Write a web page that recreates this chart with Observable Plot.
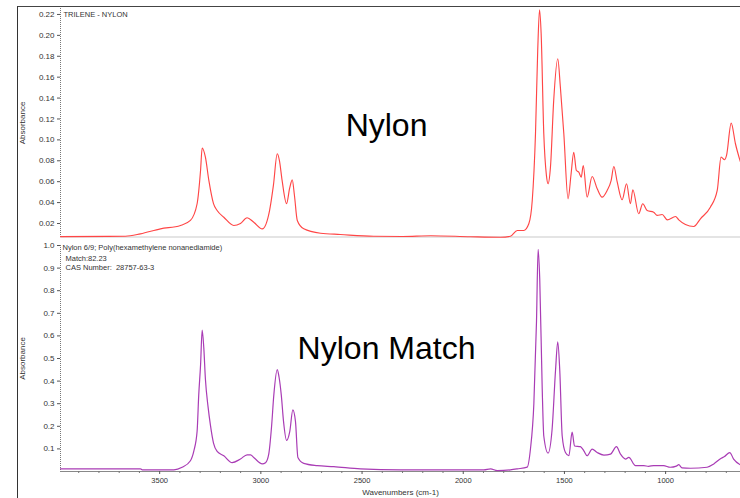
<!DOCTYPE html>
<html>
<head>
<meta charset="utf-8">
<script src="https://cdn.jsdelivr.net/npm/d3@7"></script>
<script src="https://cdn.jsdelivr.net/npm/@observablehq/plot@0.6"></script>
<style>
  html, body { margin: 0; padding: 0; background: #fff; }
  #wrap { position: relative; width: 740px; height: 498px; overflow: hidden; font-family: "Liberation Sans", Arial, sans-serif; }
  #wrap svg { display: block; }
  #frameline { position: absolute; left: 17px; top: 6px; width: 740px; height: 500px; border-left: 1.5px solid #333; border-top: 1.5px solid #444; pointer-events: none; }
</style>
</head>
<body>
<div id="wrap"><div id="charts"></div><div id="frameline"></div></div>
<script>
// ---- Data ----
const topWavenumber = [3990,3669,3595,3496,3397,3348,3315,3298,3290,3274,3257,3234,3216,3183,3134,3101,3068,3035,2993,2957,2938,2919,2908,2895,2873,2858,2845,2834,2820,2788,2705,2607,2443,2300,2160,1964,1816,1767,1733,1701,1676,1659,1643,1632,1623,1615,1602,1589,1581,1569,1553,1533,1520,1503,1482,1467,1454,1441,1429,1417,1407,1388,1363,1338,1314,1289,1269,1256,1239,1215,1193,1174,1162,1133,1113,1091,1059,1042,1017,992,951,935,902,861,828,779,745,726,709,699,676,655,630];
const topAbsorbance = [0.0075,0.0078,0.0101,0.0149,0.0181,0.0229,0.0389,0.0707,0.0922,0.0834,0.0612,0.039,0.0324,0.026,0.0181,0.020,0.0255,0.0212,0.0149,0.0324,0.0564,0.0867,0.080,0.0612,0.039,0.0535,0.0618,0.0468,0.0229,0.0149,0.0107,0.0095,0.0078,0.0076,0.0083,0.0073,0.0068,0.0078,0.0133,0.0133,0.0197,0.042,0.1058,0.1856,0.2245,0.2015,0.1058,0.066,0.058,0.0739,0.1377,0.1776,0.1504,0.1058,0.0436,0.0676,0.0882,0.0707,0.0691,0.0643,0.0755,0.0452,0.065,0.0532,0.0452,0.0516,0.0612,0.0745,0.0595,0.0427,0.058,0.0389,0.0523,0.0293,0.0389,0.0324,0.0308,0.0277,0.0286,0.0235,0.0267,0.0235,0.019,0.0171,0.0245,0.0356,0.0516,0.0835,0.081,0.0851,0.116,0.0963,0.0787];

const bottomWavenumber = [3990,3595,3586,3430,3389,3348,3331,3315,3307,3298,3290,3282,3274,3261,3249,3234,3216,3183,3142,3101,3068,3051,3035,2993,2977,2961,2947,2936,2919,2910,2899,2888,2873,2857,2842,2829,2817,2788,2722,2640,2508,2310,1898,1865,1832,1767,1733,1684,1668,1651,1638,1630,1622,1610,1602,1581,1561,1544,1533,1523,1511,1495,1478,1462,1450,1421,1404,1388,1363,1338,1305,1272,1243,1223,1198,1182,1149,1108,1084,1059,1010,977,947,935,919,877,795,762,729,709,683,664,630];
const bottomAbsorbance = [0.0117,0.0117,0.0074,0.0074,0.0187,0.0478,0.0913,0.178,0.338,0.47,0.626,0.548,0.409,0.287,0.204,0.126,0.089,0.0696,0.039,0.0552,0.0739,0.0739,0.0622,0.0335,0.039,0.077,0.2,0.338,0.451,0.417,0.338,0.222,0.138,0.178,0.273,0.222,0.0622,0.0361,0.026,0.0217,0.0117,0.0074,0.0074,0.0117,0.0043,0.0074,0.0117,0.0196,0.0987,0.301,0.664,0.983,0.852,0.374,0.157,0.0813,0.186,0.447,0.574,0.447,0.157,0.0839,0.0696,0.174,0.113,0.11,0.0913,0.0696,0.0987,0.0839,0.0726,0.077,0.11,0.077,0.0552,0.0622,0.026,0.026,0.023,0.026,0.026,0.0187,0.024,0.030,0.0161,0.0143,0.0187,0.0335,0.0565,0.0665,0.0839,0.0552,0.0291];

const topYTicks = [0.02,0.04,0.06,0.08,0.10,0.12,0.14,0.16,0.18,0.20,0.22];
const bottomYTicks = [0.1,0.2,0.3,0.4,0.5,0.6,0.7,0.8,0.9,1.0];
const xTicks = [3500,3000,2500,2000,1500,1000];
const xMinorTicks = [3900,3800,3700,3600,3400,3300,3200,3100,2900,2800,2700,2600,2400,2300,2200,2100,1900,1800,1700,1600,1400,1300,1200,1100,900,800,700];

const topTitle = "TRILENE - NYLON";
const bottomTitle = "Nylon 6/9; Poly(hexamethylene nonanediamide)";
const bottomMatch = "Match:82.23";
const bottomCas = "CAS Number:  28757-63-3";
const topLabel = "Nylon";
const bottomLabel = "Nylon Match";
const yLabel = "Absorbance";
const xLabel = "Wavenumbers (cm-1)";

const topData = topWavenumber.map((w, i) => ({w, a: topAbsorbance[i]}));
const bottomData = bottomWavenumber.map((w, i) => ({w, a: bottomAbsorbance[i]}));

const xDomain = [3990, 630];
const font = "Liberation Sans, Arial, sans-serif";
const tickColor = "#333";

const topChart = Plot.plot({
  width: 740, height: 238,
  marginLeft: 60, marginRight: 0, marginTop: 8, marginBottom: 1,
  style: {fontFamily: font, background: "#fff"},
  x: {domain: xDomain, axis: null},
  y: {domain: [0.0066, 0.2257], axis: null},
  marks: [
    Plot.ruleY([0.0066], {stroke: "#e4e4e4", strokeWidth: 3}),
    Plot.ruleX([xDomain[0]], {stroke: "#777", strokeDasharray: "1,1"}),
    Plot.axisY(topYTicks, {tickSize: 3, tickPadding: 3, fontSize: 8, fill: tickColor, stroke: "#555", tickFormat: d3.format(".2f"), label: null}),
    Plot.line(topData, {x: "w", y: "a", stroke: "#ff4646", strokeWidth: 1.15, curve: "monotone-x"}),
    Plot.text([topTitle], {frameAnchor: "top-left", dx: 3, dy: 6, text: d => d, fontSize: 7.5, fill: "#333", textAnchor: "start", lineAnchor: "middle"}),
    Plot.text([topLabel], {x: 2379, y: 0.1138, text: d => d, fontSize: 32, fill: "#000", textAnchor: "middle", lineAnchor: "middle"}),
    Plot.text([yLabel], {frameAnchor: "left", dx: -38, rotate: -90, text: d => d, fontSize: 8, fill: "#333", textAnchor: "middle", lineAnchor: "middle"})
  ]
});

const bottomChart = Plot.plot({
  width: 740, height: 260,
  marginLeft: 60, marginRight: 0, marginTop: 7, marginBottom: 27,
  style: {fontFamily: font, background: "#fff"},
  x: {domain: xDomain, axis: null},
  y: {domain: [0, 1.0], axis: null},
  marks: [
    Plot.ruleX([xDomain[0]], {stroke: "#777", strokeDasharray: "1,1"}),
    Plot.ruleY([0], {stroke: "#888"}),
    Plot.axisY(bottomYTicks, {tickSize: 3, tickPadding: 3, fontSize: 8, fill: tickColor, stroke: "#555", tickFormat: d3.format(".1f"), label: null}),
    Plot.axisX(xTicks, {tickSize: 3, tickPadding: 3, fontSize: 7.5, fill: tickColor, stroke: "#555", tickFormat: d => String(d), label: null}),
    Plot.axisX(xMinorTicks, {tickSize: 2, stroke: "#777", tickFormat: () => "", label: null}),
    Plot.line(bottomData, {x: "w", y: "a", stroke: "#a93cb5", strokeWidth: 1.2, curve: "monotone-x"}),
    Plot.text([bottomTitle], {frameAnchor: "top-left", dx: 2, dy: 2, text: d => d, fontSize: 7.5, fill: "#333", textAnchor: "start", lineAnchor: "middle"}),
    Plot.text([bottomMatch], {frameAnchor: "top-left", dx: 5, dy: 13, text: d => d, fontSize: 7.5, fill: "#333", textAnchor: "start", lineAnchor: "middle"}),
    Plot.text([bottomCas], {frameAnchor: "top-left", dx: 5, dy: 22.5, text: d => d, fontSize: 7.5, fill: "#333", textAnchor: "start", lineAnchor: "middle"}),
    Plot.text([bottomLabel], {x: 2379, y: 0.544, text: d => d, fontSize: 32, fill: "#000", textAnchor: "middle", lineAnchor: "middle"}),
    Plot.text([yLabel], {frameAnchor: "left", dx: -38, rotate: -90, text: d => d, fontSize: 8, fill: "#333", textAnchor: "middle", lineAnchor: "middle"}),
    Plot.text([xLabel], {frameAnchor: "bottom", dy: 21, text: d => d, fontSize: 8, fill: "#333", textAnchor: "middle", lineAnchor: "middle"})
  ]
});

const holder = document.getElementById("charts");
holder.appendChild(topChart);
holder.appendChild(bottomChart);
holder.querySelectorAll("text").forEach(t => t.setAttribute("xml:space", "preserve"));
</script>
</body>
</html>
